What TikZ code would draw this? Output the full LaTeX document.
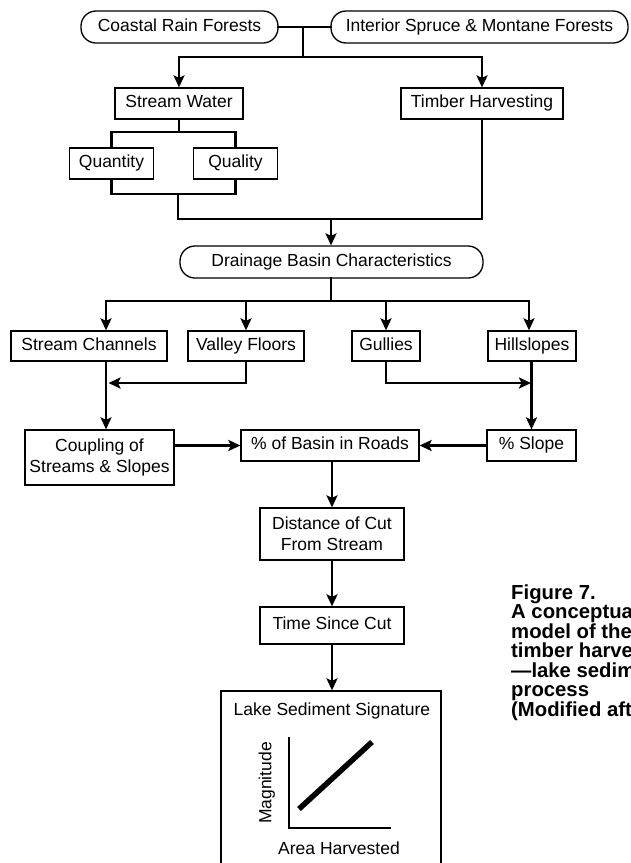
\documentclass[tikz,border=0pt]{standalone}
\usepackage{fontspec}
\setmainfont{Liberation Sans}
\usetikzlibrary{arrows.meta}
\tikzset{
  base/.style={draw, line width=1.3pt, inner sep=0pt, font=\fontsize{17.5}{21}\selectfont},
  boxn/.style={base, text height=12.6pt, text depth=3.7pt},
  roundn/.style={boxn, rounded corners=15pt},
  multi/.style={base, align=center},
  conn/.style={line width=2.8pt, line cap=rect},
  arr/.style={line cap=butt, -{Stealth[length=12pt,width=11pt,inset=2.5pt]}},
  lbl/.style={inner sep=0pt, font=\fontsize{17.5}{21}\selectfont, text height=12.6pt, text depth=3.7pt},
  capt/.style={anchor=base west, inner sep=0pt, font=\fontsize{20.3}{19.5}\bfseries\selectfont}
}
\begin{document}
\begin{tikzpicture}[x=1pt,y=-1pt]
\useasboundingbox (0,0) rectangle (631,863);
\fill[white] (0,0) rectangle (631,863);
\clip (0,0) rectangle (631,863);

% nodes
\node[roundn, minimum width=197pt, minimum height=32pt] (coastal) at (179.5,27) {Coastal Rain Forests};
\node[roundn, minimum width=297pt, minimum height=32pt] (interior) at (479.5,27) {Interior Spruce \& Montane Forests};
\node[boxn, minimum width=128pt, minimum height=31pt] (sw) at (179,103.5) {Stream Water};
\node[boxn, minimum width=162pt, minimum height=31pt] (th) at (482,103.5) {Timber Harvesting};
\node[boxn, minimum width=84pt, minimum height=31pt] (qn) at (111.5,163.5) {Quantity};
\node[boxn, minimum width=84pt, minimum height=31pt] (ql) at (235.5,163.5) {Quality};
\node[roundn, minimum width=303pt, minimum height=32pt] (db) at (331.5,262) {Drainage Basin Characteristics};
\node[boxn, minimum width=156pt, minimum height=30pt] (sc) at (89,346) {Stream Channels};
\node[boxn, minimum width=116pt, minimum height=30pt] (vf) at (246,346) {Valley Floors};
\node[boxn, minimum width=68pt, minimum height=30pt] (gu) at (386,346) {Gullies};
\node[boxn, minimum width=88pt, minimum height=30pt] (hs) at (532,346) {Hillslopes};
\node[multi, minimum width=149pt, minimum height=55pt] (cp) at (99.5,457.5) {Coupling of\\Streams \& Slopes};
\node[boxn, minimum width=178pt, minimum height=31pt] (rd) at (330,445.5) {\% of Basin in Roads};
\node[boxn, minimum width=89pt, minimum height=31pt] (sl) at (531.5,445.5) {\% Slope};
\node[multi, minimum width=144pt, minimum height=52pt] (dc) at (332,534) {Distance of Cut\\From Stream};
\node[boxn, minimum width=144pt, minimum height=37pt] (tm) at (332,625.5) {Time Since Cut};
\node[draw, line width=1.3pt, inner sep=0pt, minimum width=220pt, minimum height=190pt] (lake) at (331,786) {};
\node[lbl] (laket) at (332,711) {Lake Sediment Signature};

% graph inside lake box
\draw[line width=2pt] (289,737) -- (289,828) -- (391,828);
\draw[line width=5.5pt] (299,809) -- (372,742);
\node[lbl, rotate=90] (mag) at (267,783) {Magnitude};
\node[lbl] (area) at (339,850) {Area Harvested};

% connectors
\coordinate (jtop) at (303,27);
\coordinate (bus1) at (303,57);
\draw[conn] (coastal.east) -- (interior.west);
\draw[conn] (jtop) -- (bus1);
\draw[conn,arr] (bus1) -| (sw.north);
\draw[conn,arr] (bus1) -| (th.north);

\coordinate (b2) at (179,132);
\draw[conn] (sw.south) -- (b2);
\draw[conn] (qn.north) |- (b2) -| (ql.north);
\coordinate (b3) at (178,194);
\coordinate (b4) at (178,219);
\draw[conn] (qn.south) |- (b3) -| (ql.south);
\draw[conn] (b3) -- (b4) -| (th.south);
\coordinate (b5) at (331,219);
\draw[conn,arr] (b5) -- (b5 |- db.north);

\coordinate (b6) at (331,301);
\coordinate (sca) at (106,301);
\coordinate (hsa) at (529,301);
\draw[conn] (db.south -| b6) -- (b6);
\draw[conn] (sca) -- (hsa);
\draw[conn,arr] (sca) -- (sca |- sc.north);
\draw[conn,arr] (b6 -| vf.north) -- (vf.north);
\draw[conn,arr] (b6 -| gu.north) -- (gu.north);
\draw[conn,arr] (hsa) -- (hsa |- hs.north);

\coordinate (vfb) at (108.5,383);
\coordinate (gub) at (531,383);
\draw[conn,arr] (sca |- sc.south) -- (sca |- cp.north);
\draw[conn,arr] (vf.south) |- (vfb);
\draw[conn,arr] (gu.south) |- (gub);
\draw[conn,arr] (hs.south -| sl.north) -- (sl.north);

\draw[conn,arr] (cp.east |- rd.west) -- (rd.west);
\draw[conn,arr] (sl.west) -- (rd.east);
\draw[conn,arr] (dc.north |- rd.south) -- (dc.north);
\draw[conn,arr] (dc.south) -- (tm.north);
\draw[conn,arr] (tm.south) -- (tm.south |- lake.north);

% caption
\node[capt] (cap1) at (511,599) {Figure 7.};
\node[capt] (cap2) at (511,618.5) {A conceptual};
\node[capt] (cap3) at (511,638) {model of the};
\node[capt] (cap4) at (511,657.5) {timber harvest};
\node[capt] (cap5) at (511,677) {—lake sediment};
\node[capt] (cap6) at (511,696.5) {process};
\node[capt] (cap7) at (511,716) {(Modified after};
\end{tikzpicture}
\end{document}
